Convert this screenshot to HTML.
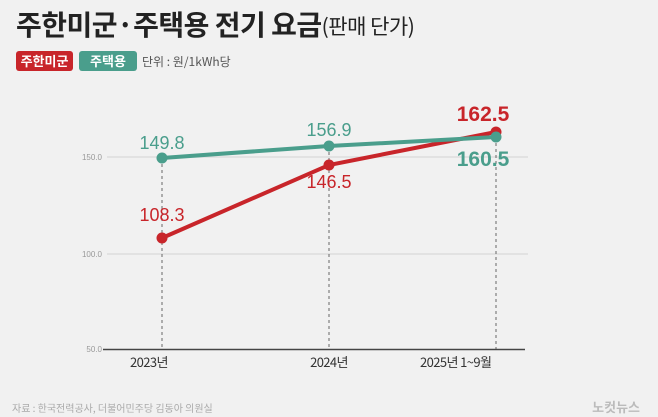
<!DOCTYPE html>
<html><head><meta charset="utf-8"><style>
body{margin:0;width:658px;height:417px;background:#f2f2f2;overflow:hidden;font-family:"Liberation Sans","Noto Sans CJK KR",sans-serif}
</style></head><body>
<svg width="658" height="417" xmlns="http://www.w3.org/2000/svg" style="position:absolute;left:0;top:0">
<rect width="658" height="417" fill="#f1f1f1"/>
<text x="16" y="35" font-size="28" font-weight="bold" fill="#222" font-family="Noto Sans CJK KR,sans-serif" letter-spacing="-0.5">주한미군·주택용 전기 요금<tspan font-size="21" font-weight="normal" dy="-1">(판매 단가)</tspan></text>
<rect x="16" y="51" width="57" height="20" rx="3" fill="#c8252a"/>
<text x="44.5" y="66" font-size="13" font-weight="bold" fill="#fff" text-anchor="middle" font-family="Noto Sans CJK KR,sans-serif">주한미군</text>
<rect x="79" y="51" width="58" height="20" rx="3" fill="#4a9e8c"/>
<text x="108" y="66" font-size="13" font-weight="bold" fill="#fff" text-anchor="middle" font-family="Noto Sans CJK KR,sans-serif">주택용</text>
<text x="142" y="66" font-size="12" fill="#555" font-family="Noto Sans CJK KR,sans-serif">단위 : 원/1kWh당</text>
<g stroke="#ddd" stroke-width="1.5"><line x1="107" y1="157" x2="528" y2="157"/><line x1="107" y1="254" x2="528" y2="254"/></g>
<g stroke="#666" stroke-width="1" stroke-dasharray="3,3"><line x1="162" y1="158" x2="162" y2="350"/><line x1="329" y1="146" x2="329" y2="350"/><line x1="496" y1="137" x2="496" y2="350"/></g>
<line x1="103" y1="349.5" x2="525" y2="349.5" stroke="#444" stroke-width="1.5"/>
<g font-size="8" fill="#999" text-anchor="end"><text x="102" y="160">150.0</text><text x="102" y="257">100.0</text><text x="102" y="352">50.0</text></g>
<g font-size="13" fill="#333" text-anchor="middle" font-family="Noto Sans CJK KR,sans-serif" letter-spacing="-0.6"><text x="130" y="367" text-anchor="start">2023년</text><text x="329" y="367">2024년</text><text x="420" y="367" text-anchor="start">2025년 1~9월</text></g>
<polyline points="162,238 329,165 496,132" fill="none" stroke="#c8252a" stroke-width="4"/>
<polyline points="162,158 329,146 496,137" fill="none" stroke="#4a9e8c" stroke-width="4"/>
<g fill="#c8252a"><circle cx="162" cy="238" r="5.5"/><circle cx="329" cy="165" r="5.5"/><circle cx="496" cy="132" r="5.5"/></g>
<g fill="#4a9e8c"><circle cx="162" cy="158" r="5.5"/><circle cx="329" cy="146" r="5.5"/><circle cx="496" cy="137" r="5.5"/></g>
<g font-size="18" text-anchor="middle" font-family="Liberation Sans Narrow,Liberation Sans,sans-serif">
<text x="162" y="149" fill="#4a9e8c">149.8</text>
<text x="329" y="136" fill="#4a9e8c">156.9</text>
<text x="162" y="221" fill="#c8252a">108.3</text>
<text x="329" y="188" fill="#c8252a">146.5</text>
<text x="483" y="121" fill="#c8252a" font-size="21" font-weight="bold">162.5</text>
<text x="483" y="166" fill="#4a9e8c" font-size="21" font-weight="bold">160.5</text>
</g>
<text x="12" y="412" font-size="10" fill="#aaa" font-family="Noto Sans CJK KR,sans-serif">자료 : 한국전력공사, 더불어민주당 김동아 의원실</text>
<text x="640" y="412" font-size="13" font-weight="bold" fill="#bbb" text-anchor="end" font-family="Noto Sans CJK KR,sans-serif">노컷뉴스</text>
</svg>
</body></html>
